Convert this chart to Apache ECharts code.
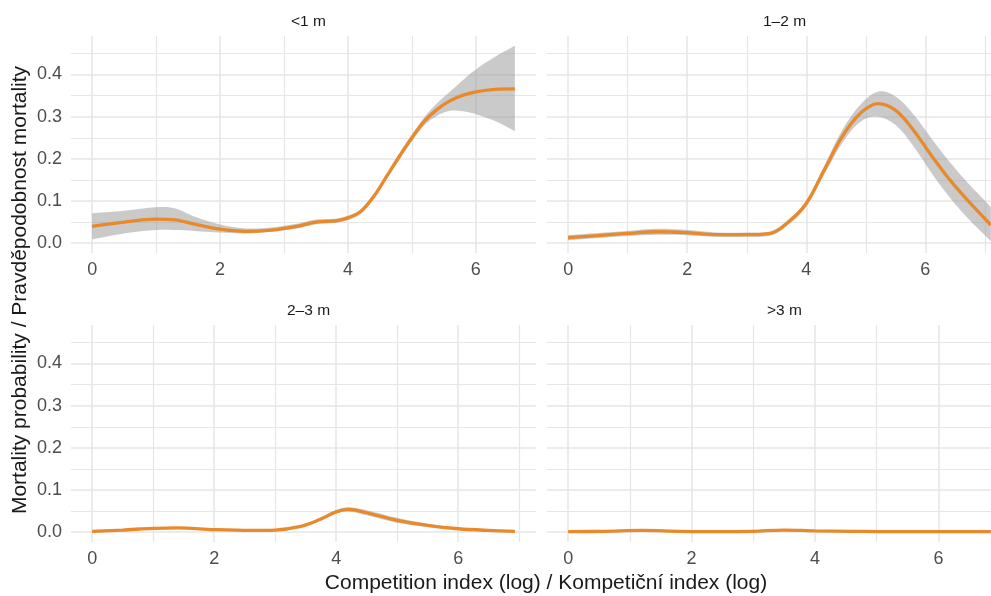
<!DOCTYPE html>
<html>
<head>
<meta charset="utf-8">
<script src="https://cdn.jsdelivr.net/npm/echarts@6/dist/echarts.min.js"></script>
<style>
  html, body { margin: 0; padding: 0; overflow: hidden; background: #ffffff; width: 991px; height: 596px; }
  #chart { width: 1012px; height: 596px; }
</style>
</head>
<body>
<div id="chart"></div>
<script>
// Panel labels (tree height classes)
const panelTitles = ['<1 m', '1–2 m', '2–3 m', '>3 m'];
const xTitle = 'Competition index (log) / Kompetiční index (log)';
const yTitle = 'Mortality probability / Pravděpodobnost mortality';
const yTickLabels = ['0.0', '0.1', '0.2', '0.3', '0.4'];

// <1 m : fitted smooth and confidence band
const x1 = [0, 0.5, 1, 1.3, 1.6, 2, 2.4, 2.8, 3.2, 3.5, 3.8, 4.0, 4.2, 4.4, 4.6, 4.8, 5.0, 5.2, 5.4, 5.6, 5.8, 6.0, 6.3, 6.61];
const fit1 = [0.040, 0.050, 0.057, 0.055, 0.045, 0.033, 0.028, 0.031, 0.040, 0.050, 0.053, 0.060, 0.075, 0.110, 0.157, 0.205, 0.250, 0.290, 0.318, 0.338, 0.351, 0.359, 0.365, 0.366];
const upr1 = [0.071, 0.077, 0.085, 0.082, 0.063, 0.044, 0.035, 0.037, 0.046, 0.056, 0.058, 0.065, 0.080, 0.116, 0.163, 0.212, 0.258, 0.300, 0.333, 0.360, 0.387, 0.412, 0.442, 0.468];
const lwr1 = [0.009, 0.023, 0.031, 0.031, 0.029, 0.025, 0.023, 0.027, 0.035, 0.045, 0.048, 0.055, 0.070, 0.104, 0.151, 0.198, 0.242, 0.280, 0.303, 0.314, 0.313, 0.306, 0.290, 0.266];

// 1–2 m
const x2 = [0, 0.5, 1, 1.5, 2, 2.5, 3, 3.4, 3.7, 4, 4.3, 4.6, 4.9, 5.2, 5.5, 5.8, 6.1, 6.4, 6.7, 7.1];
const fit2 = [0.013, 0.018, 0.023, 0.027, 0.025, 0.020, 0.020, 0.023, 0.050, 0.094, 0.173, 0.252, 0.307, 0.331, 0.315, 0.268, 0.208, 0.152, 0.103, 0.043];
const upr2 = [0.019, 0.024, 0.029, 0.034, 0.031, 0.025, 0.025, 0.028, 0.056, 0.101, 0.183, 0.267, 0.327, 0.359, 0.348, 0.306, 0.249, 0.194, 0.145, 0.086];
const lwr2 = [0.007, 0.012, 0.017, 0.020, 0.019, 0.015, 0.015, 0.018, 0.044, 0.087, 0.163, 0.237, 0.287, 0.300, 0.280, 0.230, 0.167, 0.110, 0.061, 0.005];

// 2–3 m
const x3 = [0, 0.5, 1, 1.4, 2, 2.6, 3, 3.4, 3.7, 4, 4.2, 4.5, 5, 5.5, 6, 6.5, 6.93];
const fit3 = [0.002, 0.005, 0.009, 0.010, 0.006, 0.004, 0.005, 0.013, 0.028, 0.048, 0.054, 0.046, 0.028, 0.016, 0.008, 0.004, 0.002];
const upr3 = [0.003, 0.006, 0.011, 0.012, 0.007, 0.005, 0.006, 0.015, 0.031, 0.052, 0.059, 0.052, 0.034, 0.020, 0.011, 0.006, 0.003];
const lwr3 = [0.001, 0.004, 0.007, 0.008, 0.005, 0.003, 0.004, 0.011, 0.025, 0.044, 0.049, 0.040, 0.022, 0.012, 0.005, 0.002, 0.001];

// >3 m
const x4 = [0, 0.6, 1.2, 1.8, 2.5, 3, 3.5, 4, 4.6, 5.2, 6, 6.85];
const fit4 = [0.001, 0.002, 0.004, 0.002, 0.001, 0.002, 0.005, 0.003, 0.002, 0.001, 0.001, 0.001];
const upr4 = [0.002, 0.003, 0.005, 0.003, 0.002, 0.003, 0.006, 0.004, 0.003, 0.002, 0.002, 0.002];
const lwr4 = [0.000, 0.001, 0.003, 0.001, 0.000, 0.001, 0.004, 0.002, 0.001, 0.000, 0.000, 0.000];

const panels = [
  { x: x1, fit: fit1, upr: upr1, lwr: lwr1 },
  { x: x2, fit: fit2, upr: upr2, lwr: lwr2 },
  { x: x3, fit: fit3, upr: upr3, lwr: lwr3 },
  { x: x4, fit: fit4, upr: upr4, lwr: lwr4 }
];

// Facet layout: free x scales, shared y scale, 5% padding on both scales
const FONT = '"Liberation Sans", Arial, sans-serif';
const LINE = '#E8892B';
const BAND = 'rgba(150,150,150,0.5)';
const GRID = '#e6e6e6';
const TICK = '#4d4d4d';
const SMOOTH = 0.35;

const gridBoxes = [
  { left: 71, top: 36, width: 465, height: 217 },
  { left: 547, top: 36, width: 465, height: 217 },
  { left: 71, top: 325, width: 465, height: 217 },
  { left: 547, top: 325, width: 465, height: 217 }
];

const yAll = [].concat(upr1, upr2, upr3, upr4, lwr1, lwr2, lwr3, lwr4);
const yLo = Math.min(...yAll), yHi = Math.max(...yAll);
const yPad = (yHi - yLo) * 0.05;

const pairs = (xs, ys) => xs.map((v, i) => [v, ys[i]]);

// Smooth open curve through pixel points as SVG cubic segments
function curveSegments(pts) {
  let d = '';
  for (let i = 0; i < pts.length - 1; i++) {
    const p0 = pts[Math.max(i - 1, 0)], p1 = pts[i], p2 = pts[i + 1], p3 = pts[Math.min(i + 2, pts.length - 1)];
    const c1 = [p1[0] + (p2[0] - p0[0]) * SMOOTH / 2, p1[1] + (p2[1] - p0[1]) * SMOOTH / 2];
    const c2 = [p2[0] - (p3[0] - p1[0]) * SMOOTH / 2, p2[1] - (p3[1] - p1[1]) * SMOOTH / 2];
    d += ' C' + c1[0] + ' ' + c1[1] + ' ' + c2[0] + ' ' + c2[1] + ' ' + p2[0] + ' ' + p2[1];
  }
  return d;
}

// Confidence band: upper bound left→right, straight end, lower bound right→left
function bandRenderer(rows) {
  return function (params, api) {
    if (params.dataIndex !== 0) return null;
    const top = rows.map(r => api.coord([r[0], r[2]]));
    const bottom = rows.map(r => api.coord([r[0], r[1]])).reverse();
    const d = 'M' + top[0][0] + ' ' + top[0][1] + curveSegments(top) +
      ' L' + bottom[0][0] + ' ' + bottom[0][1] + curveSegments(bottom) + ' Z';
    return {
      type: 'path',
      shape: { pathData: d },
      style: { fill: BAND, stroke: null },
      silent: true
    };
  };
}

const grid = [], xAxis = [], yAxis = [], series = [], titles = [];

panels.forEach((p, i) => {
  grid.push(Object.assign({ containLabel: false }, gridBoxes[i]));
  const xPad = (Math.max(...p.x) - Math.min(...p.x)) * 0.05;
  xAxis.push({
    type: 'value', gridIndex: i,
    min: Math.min(...p.x) - xPad, max: Math.max(...p.x) + xPad,
    minInterval: 2, maxInterval: 2, splitNumber: 4,
    axisLine: { show: false }, axisTick: { show: false },
    axisLabel: { showMinLabel: false, showMaxLabel: false, color: TICK, fontSize: 18, fontFamily: FONT, margin: 8 },
    splitLine: { show: true, showMinLine: false, showMaxLine: false, lineStyle: { color: GRID, width: 1.5 } },
    minorTick: { show: false, splitNumber: 2 },
    minorSplitLine: { show: true, lineStyle: { color: GRID, width: 1.2 } }
  });
  const showY = (i % 2 === 0);
  yAxis.push({
    type: 'value', gridIndex: i,
    min: yLo - yPad, max: yHi + yPad,
    minInterval: 0.1, maxInterval: 0.1, splitNumber: 5,
    axisLine: { show: false }, axisTick: { show: false },
    axisLabel: {
      show: showY, showMinLabel: false, showMaxLabel: false,
      color: TICK, fontSize: 18, fontFamily: FONT, margin: 9,
      formatter: v => yTickLabels[Math.round(v * 10)] || v.toFixed(1)
    },
    splitLine: { show: true, showMinLine: false, showMaxLine: false, lineStyle: { color: GRID, width: 1.5 } },
    minorTick: { show: false, splitNumber: 2 },
    minorSplitLine: { show: true, lineStyle: { color: GRID, width: 1.2 } }
  });

  const rows = p.x.map((v, k) => [v, p.lwr[k], p.upr[k]]);
  series.push({
    type: 'custom', xAxisIndex: i, yAxisIndex: i,
    data: rows, encode: { x: 0, y: [1, 2] },
    renderItem: bandRenderer(rows), silent: true, z: 2
  });
  // fitted curve
  series.push({
    type: 'line', xAxisIndex: i, yAxisIndex: i,
    data: pairs(p.x, p.fit), smooth: SMOOTH, symbol: 'none',
    lineStyle: { color: LINE, width: 3.3 }, z: 3
  });

  titles.push({
    text: panelTitles[i],
    left: gridBoxes[i].left + gridBoxes[i].width / 2,
    top: gridBoxes[i].top - 27,
    textAlign: 'center',
    textStyle: { fontSize: 15.5, fontWeight: 'normal', color: '#1a1a1a', fontFamily: FONT }
  });
});

titles.push({
  text: xTitle, left: 541, top: 568, textAlign: 'center',
  textStyle: { fontSize: 21, fontWeight: 'normal', color: '#1a1a1a', fontFamily: FONT }
});

const chart = echarts.init(document.getElementById('chart'), null, { renderer: 'canvas' });
chart.setOption({
  animation: false,
  backgroundColor: '#ffffff',
  title: titles,
  grid, xAxis, yAxis, series,
  graphic: [{
    type: 'text', x: 20, y: 290, rotation: Math.PI / 2,
    style: {
      text: yTitle, fill: '#1a1a1a', font: '21px ' + FONT,
      textAlign: 'center', textVerticalAlign: 'middle'
    }
  }]
});
</script>
</body>
</html>
